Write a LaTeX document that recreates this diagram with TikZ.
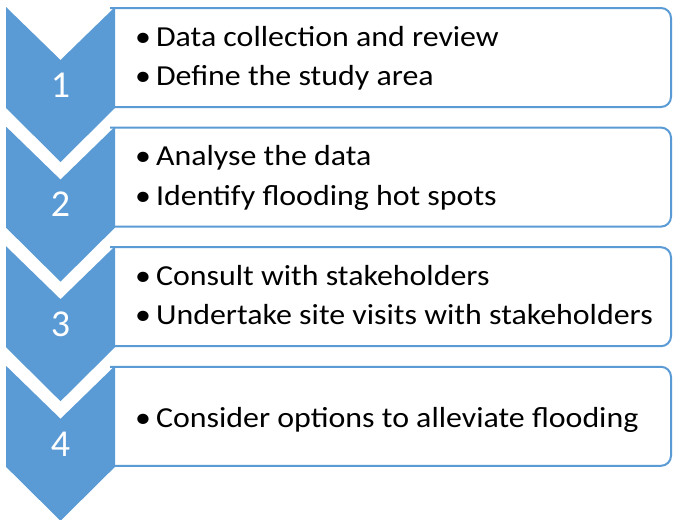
\documentclass[tikz,border=0pt]{standalone}
\usepackage{fontspec}
\usepackage{graphicx}
\setmainfont{Carlito}
\definecolor{stepblue}{HTML}{5B9BD5}
\newcommand{\bul}{\makebox[19pt][l]{\textbullet}}
\newcommand{\wide}[1]{\scalebox{1.1}[1]{#1}}

\tikzset{
  stepbox/.style={draw=stepblue, line width=2pt, fill=white, rounded corners=10pt},
  item/.style={anchor=base west, inner sep=0pt, font=\fontsize{29}{31}\selectfont},
  num/.style={text=white, font=\fontsize{38}{40}\selectfont}
}

\begin{document}
\begin{tikzpicture}[x=1pt,y=-1pt]
 \useasboundingbox (0,0) rectangle (673,520);
 % boxes and chevrons, one row per step
 \foreach \k/\n in {0/1,1/2,2/3,3/4} {
  \pgfmathsetmacro{\t}{7+119.6*\k}
  \draw[stepbox] (110,\t+1) -- (671,\t+1) -- (671,\t+100) -- (110,\t+100);
  \fill[stepblue] (6,\t) -- (60.5,\t+53) -- (115,\t) -- (115,\t+101)
   -- (60.5,\t+155) -- (6,\t+101) -- cycle;
  \node[num] (num\n) at (60.5,\t+78) {\n};
 }
 % step 1
 \node[item] (collect) at (135,46) {\wide{\bul Data collection and review}};
 \node[item] (area) at (135,85.5) {\wide{\bul Define the study area}};
 % step 2
 \node[item] (analyse) at (135,165.6) {\wide{\bul Analyse the data}};
 \node[item] (hotspots) at (135,205.1) {\wide{\bul Identify flooding hot spots}};
 % step 3
 \node[item] (consult) at (135,285.2) {\wide{\bul Consult with stakeholders}};
 \node[item] (visits) at (135,324.7) {\wide{\bul Undertake site visits with stakeholders}};
 % step 4
 \node[item] (options) at (135,427) {\wide{\bul Consider options to alleviate flooding}};
\end{tikzpicture}
\end{document}
